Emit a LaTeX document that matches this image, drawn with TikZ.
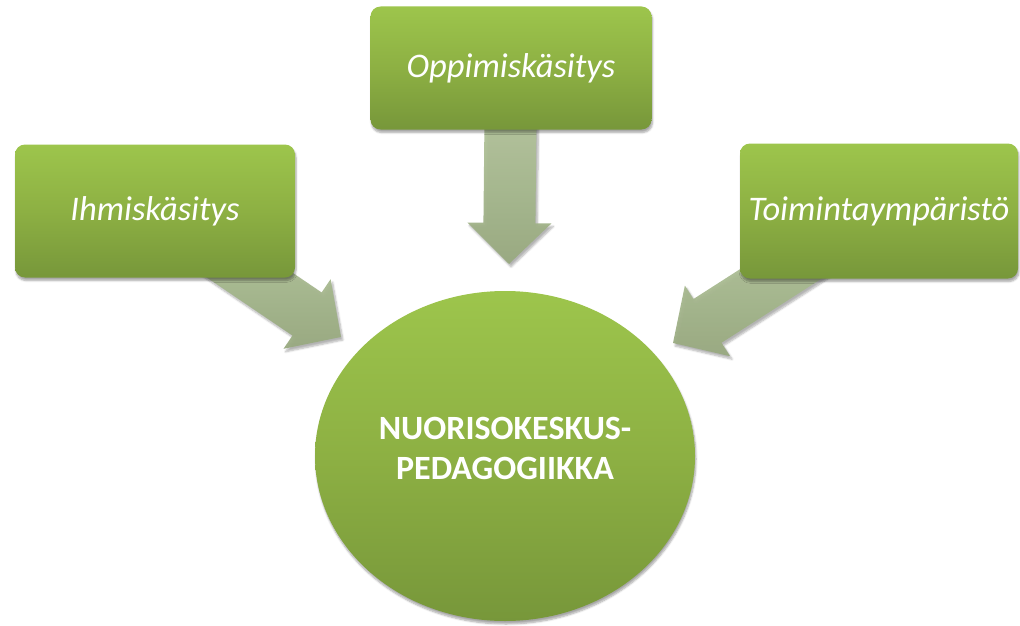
\documentclass[tikz,border=0pt]{standalone}
\usepackage{fontspec}
\setmainfont{Carlito}
\usetikzlibrary{calc,shadows.blur,shapes.geometric}
\definecolor{gtop}{HTML}{9DC54C}
\definecolor{gmid}{HTML}{8DB043}
\definecolor{gbot}{HTML}{77973A}
\definecolor{atop}{HTML}{BCCEA4}
\definecolor{abot}{HTML}{98A980}
\tikzset{
  greenbox/.style={rounded corners=10pt, minimum width=280pt, minimum height=133pt,
    top color=gtop, bottom color=gbot, middle color=gmid, draw=none,
    text=white, font=\fontsize{34.5}{40}\selectfont\itshape,
    blur shadow={shadow xshift=1pt, shadow yshift=-3pt, shadow blur steps=6, shadow opacity=35}},
  centre/.style={ellipse, minimum width=380pt, minimum height=330pt, draw=none,
    top color=gtop, bottom color=gbot, middle color=gmid,
    blur shadow={shadow xshift=1pt, shadow yshift=-3pt, shadow blur steps=6, shadow opacity=35}},
  centretext/.style={text=white, font=\fontsize{34}{40}\selectfont\bfseries, align=center},
  blockarrowstyle/.style={top color=atop, bottom color=abot, fill opacity=0.95,
    blur shadow={shadow xshift=2pt, shadow yshift=-3pt, shadow blur steps=6, shadow opacity=30}}
}
% block arrow from #1 to #2: shaft half width 26, head half width 42, head length 41
\newcommand\blockarrow[2]{%
  \path[blockarrowstyle] let \p1=(#1), \p2=(#2),
      \n1={atan2(\y2-\y1,\x2-\x1)}, \n2={veclen(\x2-\x1,\y2-\y1)} in
    ($(\p1)+(\n1+90:26pt)$)
    -- ($(\p1)+(\n1:{\n2-41pt})+(\n1+90:26pt)$)
    -- ($(\p1)+(\n1:{\n2-41pt})+(\n1+90:42pt)$)
    -- (\p2)
    -- ($(\p1)+(\n1:{\n2-41pt})+(\n1-90:42pt)$)
    -- ($(\p1)+(\n1:{\n2-41pt})+(\n1-90:26pt)$)
    -- ($(\p1)+(\n1-90:26pt)$) -- cycle;}
\begin{document}
\begin{tikzpicture}[x=1pt,y=-1pt]
\useasboundingbox (0,0) rectangle (1020,626);
% anchor points for the block arrows
\coordinate (s1) at (155,211);
\coordinate (s2) at (511,68);
\coordinate (s3) at (879,211);
\coordinate (t1) at (341,337);
\coordinate (t2) at (509,264);
\coordinate (t3) at (673,343);
\blockarrow{s1}{t1}
\blockarrow{s2}{t2}
\blockarrow{s3}{t3}
\node[greenbox] (ihm) at (s1) {Ihmiskäsitys};
\node[greenbox, minimum width=281pt, minimum height=123pt] (opp) at (s2) {Oppimiskäsitys};
\node[greenbox, minimum width=278pt, minimum height=135pt] (toi) at (s3) {Toimintaympäristö};
\node[centre] (np) at (505,456) {};
\node[centretext] (npt) at (505,448) {NUORISOKESKUS-\\PEDAGOGIIKKA};
\end{tikzpicture}
\end{document}
